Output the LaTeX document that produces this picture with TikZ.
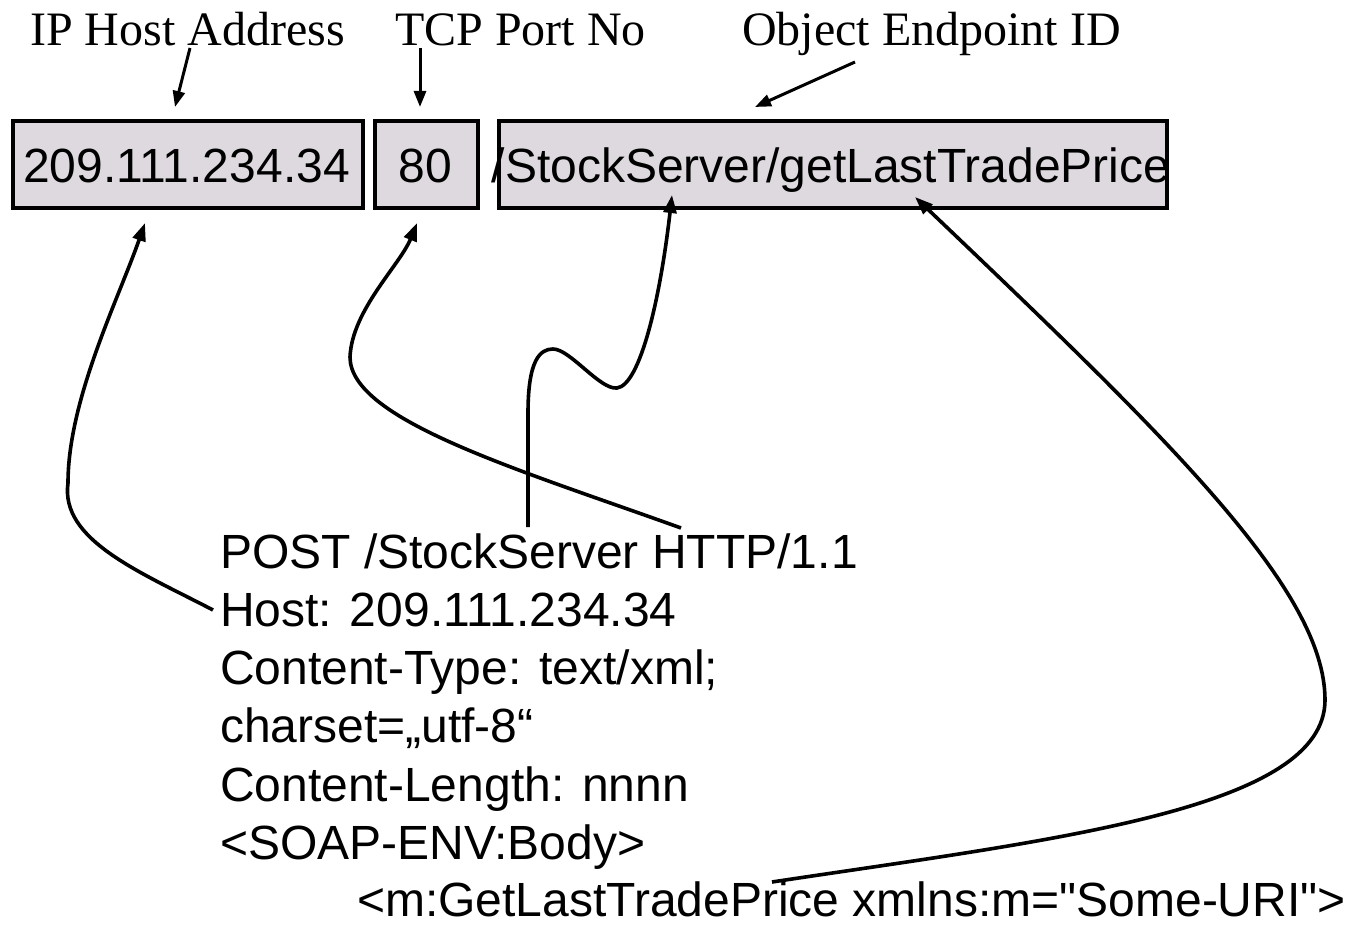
\documentclass[tikz,border=0pt]{standalone}
\usepackage{fontspec}
\setmainfont{Liberation Serif}
\newfontfamily\sansface{Liberation Sans}
\usetikzlibrary{arrows.meta}
\definecolor{fieldgray}{RGB}{221,217,223}
\newcommand\hdrfont{\rmfamily\fontsize{48}{58}\selectfont}
\newcommand\reqfont{\sansface\fontsize{48}{58}\selectfont}

\begin{document}
\begin{tikzpicture}[x=1pt,y=-1pt,
  field/.style={draw, line width=3.6pt, fill=fieldgray, inner sep=0pt, outer sep=0pt},
  fieldtext/.style={font=\reqfont, anchor=base, inner sep=0pt},
  hdr/.style={font=\hdrfont, anchor=base west, inner sep=0pt},
  req/.style={font=\reqfont, anchor=base west, inner sep=0pt},
  pointer/.style={line width=3pt, -{Triangle[length=16pt,width=12pt]}},
  link/.style={line width=3.6pt, -{Triangle[length=18pt,width=13pt]}}]

\path[use as bounding box] (0,0) rectangle (1357,925);

% address fields
\node[field, minimum width=350pt, minimum height=87pt] (b1) at (188,164.5) {};
\node[field, minimum width=103pt, minimum height=87pt] (b2) at (426.5,164.5) {};
\node[field, minimum width=668pt, minimum height=87pt] (b3) at (833,164.5) {};
\node[fieldtext] (t1) at (186.5,183) {209.111.234.34};
\node[fieldtext] (t2) at (425.5,183) {80};
\node[fieldtext] (t3) at (831,183) {/StockServer/getLastTradePrice};

% headings
\node[hdr] (h1) at (30,46) {IP Host Address};
\node[hdr] (h2) at (395,46) {TCP Port No};
\node[hdr] (h3) at (742,46) {Object Endpoint ID};

% HTTP request
\node[req] (l1) at (220,568)   {POST /StockServer HTTP/1.1};
\node[req] (l2) at (220,626.3) {Host: 209.111.234.34};
\node[req] (l3) at (220,684.6) {Content-Type: text/xml;};
\node[req] (l4) at (220,742.9) {charset=„utf-8“};
\node[req] (l5) at (220,801.2) {Content-Length: nnnn};
\node[req] (l6) at (220,859.5) {<SOAP-ENV:Body>};
\node[req] (l7) at (357,916.5) {<m:GetLastTradePrice xmlns:m="Some-URI">};

% headings to fields
\draw[pointer] ([xshift=160pt,yshift=-2pt]h1.base west) -- ([xshift=-13pt,yshift=14pt]b1.north);
\draw[pointer] ([xshift=25pt,yshift=-2pt]h2.base west) -- ([xshift=-6.5pt,yshift=14pt]b2.north);
\draw[pointer] ([xshift=113pt,yshift=-16pt]h3.base west) -- ([xshift=-78pt,yshift=14pt]b3.north);

% request parts to fields
\draw[link] ([xshift=-7pt,yshift=16.3pt]l2.base west)
  .. controls (140,572) and (60,540) .. (68,483)
  .. controls (68,400) and (118,300) .. ([xshift=-43pt,yshift=-15pt]b1.south);

\draw[link] ([xshift=461pt,yshift=40pt]l1.base west)
  .. controls (520,470) and (350,420) .. (350,357)
  .. controls (352,310) and (400,265) .. ([xshift=-9.5pt,yshift=-15pt]b2.south);

\draw[link] ([xshift=308pt,yshift=41pt]l1.base west) -- (528,413)
  .. controls (528,360) and (540,349) .. (553,349)
  .. controls (570,349) and (600,390) .. (617,388)
  .. controls (640,385) and (660,300) .. ([xshift=-161pt,yshift=13pt]b3.south);

\draw[link] ([xshift=415pt,yshift=34.5pt]l7.base west)
  .. controls (1050,840) and (1325,810) .. (1325,700)
  .. controls (1325,590) and (1170,440) .. ([xshift=82pt,yshift=11pt]b3.south);

\end{tikzpicture}
\end{document}
